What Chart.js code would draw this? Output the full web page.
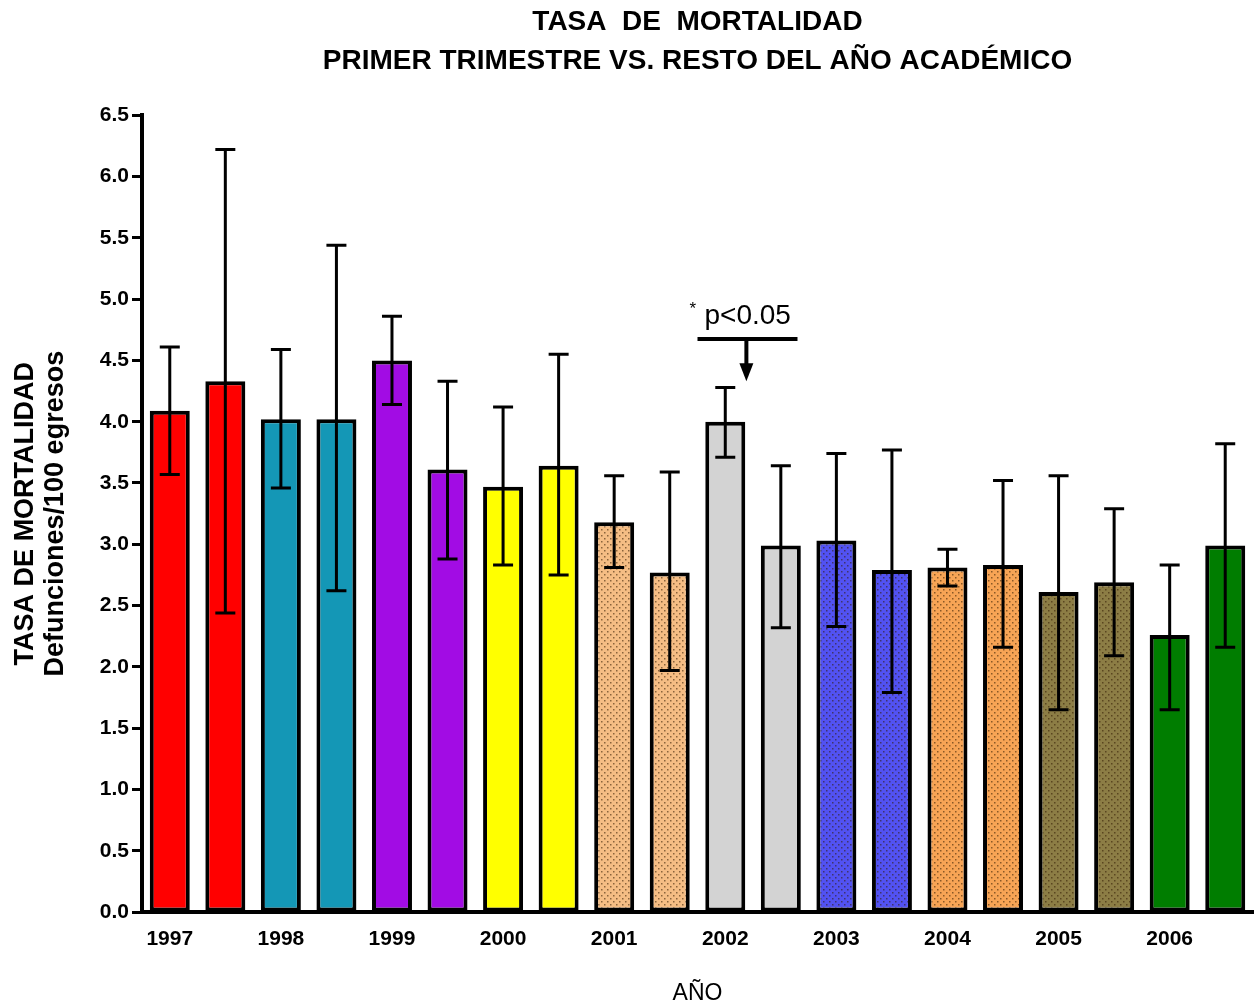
<!DOCTYPE html>
<html lang="es">
<head>
<meta charset="UTF-8">
<title>Tasa de mortalidad</title>
<script src="https://cdn.jsdelivr.net/npm/chart.js@4.4.1/dist/chart.umd.min.js"></script>
<style>
body {margin:0; background:#fff;}
#wrap {width:1255px; height:1007px;}
</style>
</head>
<body>
<div id="wrap"><canvas id="chartTasa" width="1255" height="1007"></canvas></div>
<script>
// dos barras por año: primer trimestre y resto del año
var years = ['1997','1998','1999','2000','2001','2002','2003','2004','2005','2006'];
var tasa    = [4.09, 4.33, 4.02, 4.02, 4.50, 3.61, 3.47, 3.64, 3.18, 2.77,
               4.00, 2.99, 3.03, 2.79, 2.81, 2.83, 2.61, 2.69, 2.26, 2.99];
var errAlto = [4.61, 6.22, 4.59, 5.44, 4.86, 4.33, 4.12, 4.55, 3.56, 3.59,
               4.28, 3.64, 3.74, 3.77, 2.96, 3.52, 3.56, 3.29, 2.83, 3.82];
var errBajo = [3.57, 2.44, 3.46, 2.62, 4.14, 2.88, 2.83, 2.75, 2.81, 1.97,
               3.71, 2.32, 2.33, 1.79, 2.66, 2.16, 1.65, 2.09, 1.65, 2.16];
var yTicks = [0,0.5,1,1.5,2,2.5,3,3.5,4,4.5,5,5.5,6,6.5];

// colores por año, algunos con trama de puntos
var colores  = ['#ff0000','#1497b6','#a20ce4','#ffff00','#f5bd84','#d3d3d3','#5252f2','#f7a455','#8c7d45','#007d00'];
var punteado = [false,false,false,false,true,false,true,true,true,false];

function trama(color) {
  var c = document.createElement('canvas');
  c.width = 6; c.height = 6;
  var g = c.getContext('2d');
  g.fillStyle = color;
  g.fillRect(0, 0, 6, 6);
  g.fillStyle = 'rgba(50,25,0,0.55)';
  g.fillRect(1, 1, 1.5, 1.5);
  g.fillRect(4, 4, 1.5, 1.5);
  return g.createPattern(c, 'repeat');
}

var etiquetas = [], fondos = [];
for (var i = 0; i < years.length; i++) {
  var f = punteado[i] ? trama(colores[i]) : colores[i];
  etiquetas.push(years[i], years[i]);
  fondos.push(f, f);
}

var barrasError = {
  id: 'barrasError',
  afterDatasetsDraw: function(chart) {
    var ctx = chart.ctx, y = chart.scales.y;
    var meta = chart.getDatasetMeta(0);
    ctx.save();
    ctx.strokeStyle = '#000';
    ctx.lineWidth = 3;
    meta.data.forEach(function(bar, i) {
      var yt = y.getPixelForValue(errAlto[i]);
      var yb = y.getPixelForValue(errBajo[i]);
      ctx.beginPath();
      ctx.moveTo(bar.x, yt); ctx.lineTo(bar.x, yb);
      ctx.moveTo(bar.x - 10, yt); ctx.lineTo(bar.x + 10, yt);
      ctx.moveTo(bar.x - 10, yb); ctx.lineTo(bar.x + 10, yb);
      ctx.stroke();
    });
    ctx.restore();
  }
};

// anotacion * p<0.05 sobre 2002
var nota = {
  id: 'nota',
  afterDraw: function(chart) {
    var ctx = chart.ctx, x = chart.scales.x, y = chart.scales.y;
    var paso = x.getPixelForValue(1) - x.getPixelForValue(0);
    var c = x.getPixelForValue(10);
    var x0 = c - paso / 2, x1 = c + paso * 1.3, xf = c + paso * 0.38;
    var yl = y.getPixelForValue(4.675), yp = y.getPixelForValue(4.33);
    ctx.save();
    ctx.strokeStyle = '#000';
    ctx.fillStyle = '#000';
    ctx.lineWidth = 4;
    ctx.beginPath();
    ctx.moveTo(x0, yl); ctx.lineTo(x1, yl);
    ctx.moveTo(xf, yl); ctx.lineTo(xf, yp - 14);
    ctx.stroke();
    ctx.beginPath();
    ctx.moveTo(xf - 7, yp - 18); ctx.lineTo(xf + 7, yp - 18); ctx.lineTo(xf, yp);
    ctx.closePath();
    ctx.fill();
    ctx.textBaseline = 'alphabetic';
    ctx.font = '28px "Liberation Sans", Arial, sans-serif';
    ctx.fillText('p<0.05', x0 + 7, yl - 15);
    ctx.font = '17px "Liberation Sans", Arial, sans-serif';
    ctx.fillText('*', x0 - 8, yl - 25);
    ctx.restore();
  }
};

new Chart('chartTasa', {
  type: 'bar',
  data: {
    labels: etiquetas,
    datasets: [{
      data: tasa,
      backgroundColor: fondos,
      borderColor: '#000',
      borderWidth: 4,
      borderSkipped: false,
      categoryPercentage: 1,
      barPercentage: 0.72
    }]
  },
  options: {
    responsive: false,
    animation: false,
    layout: {padding: {left: 0, right: 2, top: 0, bottom: 0}},
    plugins: {
      legend: {display: false},
      tooltip: {enabled: false},
      title: {
        display: true,
        fullSize: false,
        text: ['TASA  DE  MORTALIDAD', 'PRIMER TRIMESTRE VS. RESTO DEL AÑO ACADÉMICO'],
        color: '#000',
        font: {family: '"Liberation Sans", Arial, sans-serif', size: 28, weight: 'bold', lineHeight: 1.38},
        padding: {top: 3, bottom: 35}
      }
    },
    scales: {
      x: {
        grid: {display: true, drawOnChartArea: false, drawTicks: false},
        border: {display: true, color: '#000', width: 4},
        ticks: {
          autoSkip: false, maxRotation: 0, padding: 15, color: '#000',
          font: {family: '"Liberation Sans", Arial, sans-serif', size: 21, weight: 'bold'},
          callback: function(v, i) { return i % 2 === 0 ? this.getLabelForValue(v) : ''; }
        },
        title: {
          display: true, text: 'AÑO', color: '#000',
          font: {family: '"Liberation Sans", Arial, sans-serif', size: 23},
          padding: {top: 0, bottom: 0}
        },
        afterFit: function(s) { s.height = 95; }
      },
      y: {
        min: 0, max: 6.5,
        afterBuildTicks: function(s) { s.ticks = yTicks.map(function(v) { return {value: v}; }); },
        grid: {display: true, drawOnChartArea: false, drawTicks: true, tickLength: 10, tickWidth: 3, tickColor: '#000'},
        border: {display: true, color: '#000', width: 4},
        ticks: {
          padding: 3, color: '#000',
          font: {family: '"Liberation Sans", Arial, sans-serif', size: 21, weight: 'bold'},
          callback: function(v) { return Number(v).toFixed(1); }
        },
        title: {
          display: true,
          text: ['TASA DE MORTALIDAD', 'Defunciones/100 egresos'],
          color: '#000',
          font: {family: '"Liberation Sans", Arial, sans-serif', size: 27, weight: 'bold', lineHeight: 1.12},
          padding: {top: 10, bottom: 0}
        },
        afterFit: function(s) { s.width = 142; }
      }
    }
  },
  plugins: [barrasError, nota]
});
</script>
</body>
</html>
